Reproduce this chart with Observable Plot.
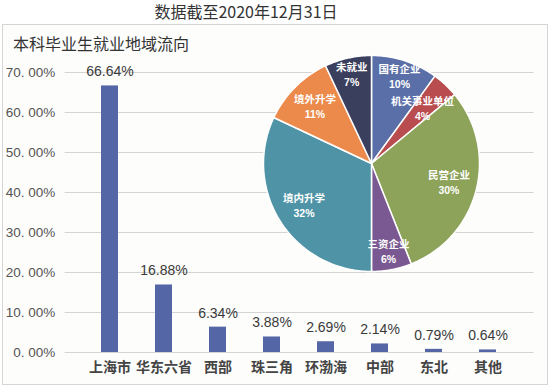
<!DOCTYPE html>
<html><head><meta charset="utf-8">
<script src="https://cdn.jsdelivr.net/npm/d3@7"></script>
<script src="https://cdn.jsdelivr.net/npm/@observablehq/plot@0.6"></script>
<style>
html,body{margin:0;padding:0;background:#fff;}
#wrap{position:relative;width:550px;height:387px;overflow:hidden;font-family:"Noto Sans CJK SC","Noto Sans",sans-serif;}
#title{position:absolute;left:0;width:492px;top:0;text-align:center;font-size:16px;color:#333;line-height:22px;}
#box{position:absolute;left:2px;top:24px;width:544px;height:359px;border:1.5px solid #d6d6d6;background:#fdfdfc;}
#sub{position:absolute;left:13px;top:32px;font-size:16px;color:#333;line-height:22px;}
#bars{position:absolute;left:0;top:0;}
#pie{position:absolute;left:256px;top:48px;}
</style></head>
<body><div id="wrap">
<div id="box"></div>
<div id="title">数据截至2020年12月31日</div>
<div id="sub">本科毕业生就业地域流向</div>
<div id="bars"></div>
<div id="pie"></div>
</div>
<script>
const regions = ["上海市","华东六省","西部","珠三角","环渤海","中部","东北","其他"];
const shares = [66.64,16.88,6.34,3.88,2.69,2.14,0.79,0.64];
const yTicks = [0,10,20,30,40,50,60,70];
const yTickLabels = ["0. 00%","10. 00%","20. 00%","30. 00%","40. 00%","50. 00%","60. 00%","70. 00%"];

const sectors = ["国有企业","机关事业单位","民营企业","三资企业","境内升学","境外升学","未就业"];
const sectorPct = [10,4,30,6,32,11,7];
const sectorColors = ["#5a6fa8","#b84c4e","#8da35a","#7a5992","#4f94a6","#ec8a4c","#3b3f5e"];

const barData = regions.map((r,i)=>({region:r, value:shares[i]}));
const numFont = "'Liberation Sans',Arial,sans-serif";

const bars = Plot.plot({
  width:550, height:387,
  marginLeft:64.7, marginRight:16.5, marginTop:72, marginBottom:35,
  style:{background:"transparent", fontFamily:"'Noto Sans CJK SC','Noto Sans',sans-serif"},
  x:{domain:regions, padding:0.68, label:null, axis:null},
  y:{domain:[0,70], ticks:yTicks, label:null, axis:null},
  marks:[
    Plot.gridY(yTicks,{stroke:"#d4d4d4", strokeOpacity:1, strokeWidth:1.2}),
    Plot.barY(barData,{x:"region", y:"value", fill:"#5566a6"}),
    Plot.text(barData,{x:"region", y:"value", text:d=>d.value.toFixed(2)+"%", dy:-14, fill:"#3a3a3a", fontSize:14, fontFamily:numFont}),
    Plot.axisY({ticks:yTicks, tickSize:0, tickPadding:10, fontSize:13.5, fill:"#555", fontFamily:numFont, tickFormat:d=>yTickLabels[yTicks.indexOf(d)]}),
    Plot.axisX({tickSize:0, tickPadding:10, fontSize:14, fontWeight:"bold", fill:"#444"})
  ]
});
document.getElementById("bars").appendChild(bars);

// pie
const W = 230, R = 108;
const arcs = d3.pie().sort(null).value(d=>d)(sectorPct);
const poly = [];
arcs.forEach((a,i)=>{
  const n = Math.max(4, Math.ceil((a.endAngle-a.startAngle)/0.02));
  poly.push({k:i, x:0, y:0});
  for(let j=0;j<=n;j++){
    const t = a.startAngle + (a.endAngle-a.startAngle)*j/n;
    poly.push({k:i, x:R*Math.sin(t), y:R*Math.cos(t)});
  }
  poly.push({k:i, x:0, y:0});
});
// label radius rule (mimics the spreadsheet's best-fit placement)
const labelRadius = p => R*(p < 5 ? 0.69 : p <= 10 ? 0.84 : 0.74);
const labels = arcs.map((a,i)=>{
  const m=(a.startAngle+a.endAngle)/2;
  const lr = labelRadius(sectorPct[i]);
  return {name:sectors[i], pct:sectorPct[i]+"%", x:lr*Math.sin(m), y:lr*Math.cos(m)};
});
const pie = Plot.plot({
  width:W, height:W, margin:0,
  style:{background:"transparent", fontFamily:"'Noto Sans CJK SC','Noto Sans',sans-serif"},
  x:{domain:[-W/2,W/2], axis:null},
  y:{domain:[-W/2,W/2], axis:null},
  color:{domain:d3.range(sectors.length), range:sectorColors},
  marks:[
    Plot.line(poly,{x:"x", y:"y", z:"k", fill:d=>d.k, stroke:"#fff", strokeWidth:1.5, curve:"linear"}),
    Plot.text(labels,{x:"x", y:"y", text:"name", dy:-7.5, fill:"#fff", fontSize:10.5, fontWeight:"bold"}),
    Plot.text(labels,{x:"x", y:"y", text:"pct", dy:7.5, fill:"#fff", fontSize:10.5, fontWeight:"bold", fontFamily:numFont})
  ]
});
document.getElementById("pie").appendChild(pie);
</script>
</body></html>
